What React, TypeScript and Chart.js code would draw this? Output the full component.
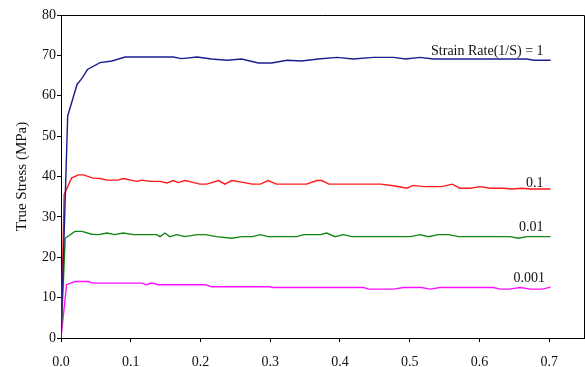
import React, { useEffect, useRef } from "react";
import { Chart, registerables } from "chart.js";

Chart.register(...registerables);

// Strain (x) / True Stress (y, MPa)
const strain1 = [0, 0.0096, 0.023, 0.03, 0.038, 0.056, 0.073, 0.092, 0.161, 0.173, 0.195, 0.216, 0.238, 0.259, 0.283, 0.302, 0.324, 0.345, 0.369, 0.396, 0.419, 0.448, 0.477, 0.494, 0.515, 0.534, 0.62, 0.668, 0.678, 0.702];
const stress1 = [0, 55, 62.8, 64.3, 66.5, 68.2, 68.6, 69.6, 69.6, 69.2, 69.6, 69.1, 68.8, 69.1, 68.1, 68.1, 68.8, 68.6, 69.1, 69.5, 69.1, 69.5, 69.5, 69.1, 69.5, 69.1, 69.1, 69.1, 68.8, 68.8];

const strain01 = [0, 0.0045, 0.015, 0.025, 0.032, 0.046, 0.056, 0.066, 0.082, 0.089, 0.109, 0.116, 0.128, 0.142, 0.152, 0.161, 0.168, 0.178, 0.188, 0.199, 0.209, 0.226, 0.235, 0.245, 0.259, 0.274, 0.286, 0.297, 0.309, 0.352, 0.367, 0.374, 0.384, 0.458, 0.477, 0.496, 0.505, 0.52, 0.546, 0.561, 0.572, 0.587, 0.601, 0.615, 0.635, 0.647, 0.661, 0.673, 0.702];
const stress01 = [0, 35.5, 39.6, 40.4, 40.4, 39.6, 39.5, 39.1, 39.1, 39.5, 38.8, 39.1, 38.8, 38.8, 38.4, 39.0, 38.5, 39.0, 38.6, 38.1, 38.1, 39.0, 38.1, 39.0, 38.6, 38.1, 38.1, 39.0, 38.1, 38.1, 39.0, 39.0, 38.1, 38.1, 37.7, 37.1, 37.8, 37.5, 37.5, 38.1, 37.1, 37.1, 37.5, 37.1, 37.1, 36.9, 37.1, 36.9, 36.9];

const strain001 = [0, 0.006, 0.02, 0.03, 0.044, 0.054, 0.066, 0.077, 0.089, 0.104, 0.137, 0.142, 0.149, 0.156, 0.166, 0.178, 0.195, 0.207, 0.223, 0.245, 0.259, 0.274, 0.286, 0.297, 0.338, 0.348, 0.372, 0.381, 0.393, 0.405, 0.417, 0.501, 0.515, 0.527, 0.541, 0.556, 0.57, 0.644, 0.656, 0.668, 0.702];
const stress001 = [0, 24.7, 26.4, 26.4, 25.7, 25.6, 26.0, 25.6, 26.0, 25.6, 25.6, 25.1, 26.0, 25.1, 25.6, 25.1, 25.6, 25.6, 25.1, 24.7, 25.1, 25.1, 25.6, 25.1, 25.1, 25.6, 25.6, 26.0, 25.1, 25.6, 25.1, 25.1, 25.6, 25.1, 25.6, 25.6, 25.1, 25.1, 24.7, 25.1, 25.1];

const strain0001 = [0, 0.008, 0.02, 0.039, 0.046, 0.116, 0.123, 0.13, 0.14, 0.207, 0.216, 0.299, 0.304, 0.434, 0.441, 0.477, 0.491, 0.517, 0.529, 0.544, 0.62, 0.63, 0.642, 0.659, 0.673, 0.69, 0.702];
const stress0001 = [0, 13.2, 14.0, 14.0, 13.6, 13.6, 13.2, 13.6, 13.2, 13.2, 12.7, 12.7, 12.5, 12.5, 12.1, 12.1, 12.5, 12.5, 12.1, 12.5, 12.5, 12.1, 12.1, 12.5, 12.1, 12.1, 12.6];

const seriesNames = ["1", "0.1", "0.01", "0.001"];
const seriesColors = ["#1c1c8f", "#ff1a1a", "#138613", "#ff10ff"];

const xTickValues = [0, 0.1, 0.2, 0.3, 0.4, 0.5, 0.6, 0.7];
const yTickValues = [0, 10, 20, 30, 40, 50, 60, 70, 80];

const curveLabels = ["Strain Rate(1/S) = 1", "0.1", "0.01", "0.001"];
const curveLabelStrain = [0.692, 0.692, 0.692, 0.694];
const curveLabelStress = [70.2, 37.5, 26.5, 13.9];

const FONT = "'Liberation Serif', 'Times New Roman', serif";

const zip = (xs: number[], ys: number[]) => xs.map((x, i) => ({ x, y: ys[i] }));

export default function App() {
  const ref = useRef<HTMLCanvasElement>(null);

  useEffect(() => {
    if (!ref.current) return;
    const strains = [strain1, strain01, strain001, strain0001];
    const stresses = [stress1, stress01, stress001, stress0001];

    const framePlugin = {
      id: "frame",
      afterDraw(chart: any) {
        const { ctx, chartArea } = chart;
        ctx.save();
        ctx.strokeStyle = "#000";
        ctx.lineWidth = 1;
        ctx.beginPath();
        ctx.moveTo(chartArea.left, Math.round(chartArea.top) + 0.5);
        ctx.lineTo(Math.round(chartArea.right) + 0.5, Math.round(chartArea.top) + 0.5);
        ctx.lineTo(Math.round(chartArea.right) + 0.5, chartArea.bottom);
        ctx.stroke();
        // labels
        const xs = chart.scales.x;
        const ys = chart.scales.y;
        ctx.fillStyle = "#111";
        ctx.font = `14px ${FONT}`;
        ctx.textAlign = "right";
        ctx.textBaseline = "alphabetic";
        curveLabels.forEach((t, i) => {
          ctx.fillText(t, xs.getPixelForValue(curveLabelStrain[i]), ys.getPixelForValue(curveLabelStress[i]));
        });
        ctx.restore();
      },
    };

    const chart = new Chart(ref.current, {
      type: "line",
      data: {
        datasets: seriesNames.map((n, i) => ({
          label: n,
          data: zip(strains[i], stresses[i]),
          borderColor: seriesColors[i],
          backgroundColor: seriesColors[i],
          borderWidth: 1.4,
          pointRadius: 0,
          tension: 0,
          fill: false,
        })),
      },
      options: {
        animation: false,
        responsive: false,
        maintainAspectRatio: false,
        layout: { padding: { top: 15, right: 1, left: 0, bottom: 0 } },
        plugins: { legend: { display: false }, tooltip: { enabled: false } },
        scales: {
          x: {
            type: "linear",
            min: 0,
            max: 0.75,
            afterBuildTicks: (axis: any) => {
              axis.ticks = xTickValues.map((v) => ({ value: v }));
            },
            afterFit: (axis: any) => {
              axis.height = 29;
            },
            ticks: {
              color: "#111",
              font: { family: FONT, size: 14 },
              padding: 12,
              maxRotation: 0,
              callback: (v: any) => Number(v).toFixed(1),
            },
            grid: { drawOnChartArea: false, drawTicks: true, tickLength: 4, color: "#000" },
            border: { display: true, color: "#000", width: 1 },
          },
          y: {
            type: "linear",
            min: 0,
            max: 80,
            afterBuildTicks: (axis: any) => {
              axis.ticks = yTickValues.map((v) => ({ value: v }));
            },
            afterFit: (axis: any) => {
              axis.width = 61;
            },
            ticks: {
              color: "#111",
              font: { family: FONT, size: 14 },
              padding: 1,
            },
            title: {
              display: true,
              text: "True Stress (MPa)",
              color: "#111",
              font: { family: FONT, size: 15 },
              padding: { top: 13, bottom: 0 },
            },
            grid: { drawOnChartArea: false, drawTicks: true, tickLength: 4, color: "#000" },
            border: { display: true, color: "#000", width: 1 },
          },
        },
      },
      plugins: [framePlugin],
    });
    return () => chart.destroy();
  }, []);

  return (
    <div style={{ position: "fixed", left: 0, top: 0, width: 585, height: 367, background: "#fff" }}>
      <canvas ref={ref} width={585} height={367} style={{ width: 585, height: 367 }} />
    </div>
  );
}
